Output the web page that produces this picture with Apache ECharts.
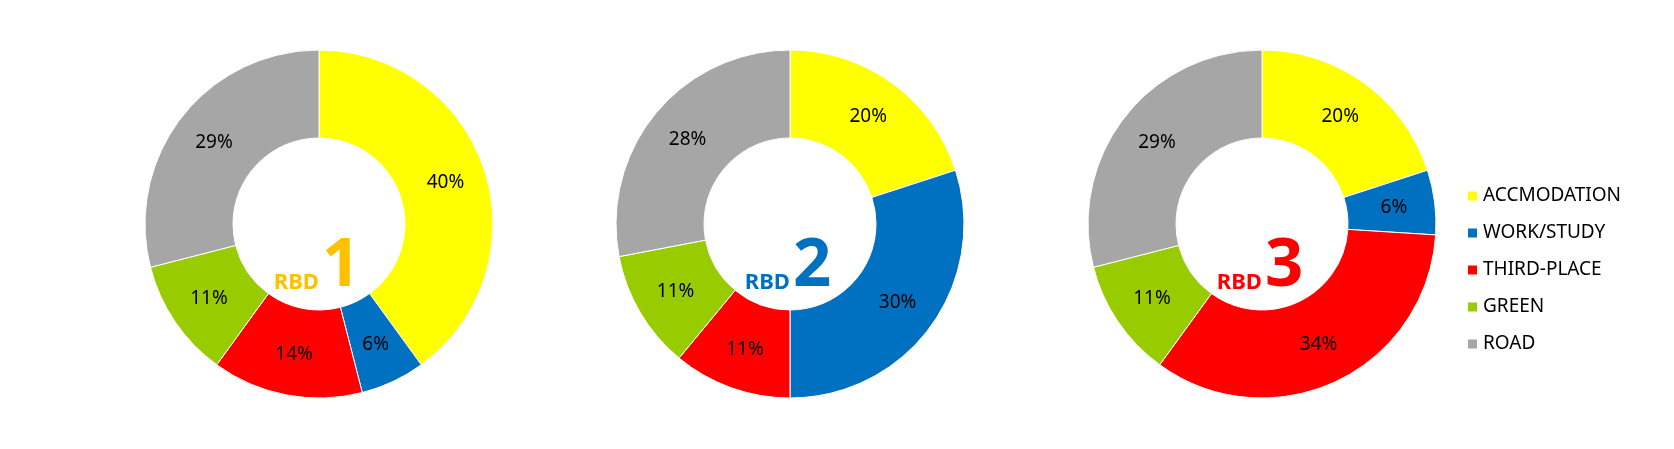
<!DOCTYPE html>
<html>
<head>
<meta charset="utf-8">
<style>
html,body{margin:0;padding:0;background:#fff;}
#chart{width:1674px;height:449px;}
</style>
<script src="https://cdn.jsdelivr.net/npm/echarts@6/dist/echarts.min.js"></script>
</head>
<body>
<div id="chart"></div>
<script>
var categories = ['ACCMODATION', 'WORK/STUDY', 'THIRD-PLACE', 'GREEN', 'ROAD'];
var colors = ['#FFFF00', '#0070C0', '#FF0000', '#99CC00', '#A6A6A6'];
var rbd1 = [40, 6, 14, 11, 29];
var rbd2 = [20, 30, 11, 11, 28];
var rbd3 = [20, 6, 34, 11, 29];
var rbdNames = ['1', '2', '3'];
var rbdColors = ['#FFC000', '#0070C0', '#FF0000'];

var FONT = 'Noto Sans';
var centersX = [319, 790, 1262];
var centerY = 224;
var allData = [rbd1, rbd2, rbd3];

var series = allData.map(function (vals, i) {
  return {
    type: 'pie',
    name: 'RBD ' + rbdNames[i],
    center: [centersX[i], centerY],
    radius: [86, 174],
    startAngle: 90,
    clockwise: true,
    avoidLabelOverlap: false,
    animation: false,
    itemStyle: { borderColor: '#ffffff', borderWidth: 1 },
    emphasis: { disabled: true },
    label: {
      show: true,
      position: 'inside',
      formatter: '{c}%',
      color: '#000',
      fontFamily: FONT,
      fontSize: 19
    },
    labelLine: { show: false },
    data: categories.map(function (c, k) {
      return { name: c, value: vals[k], itemStyle: { color: colors[k] } };
    })
  };
});

var graphics = rbdNames.map(function (n, i) {
  return {
    type: 'text',
    x: centersX[i] - 2,
    y: centerY + 76,
    style: {
      text: '{a|RBD}{b|' + n + '}',
      align: 'center',
      verticalAlign: 'bottom',
      rich: {
        a: { fontFamily: FONT, fontWeight: 'bold', fontSize: 22, fill: rbdColors[i], color: rbdColors[i], verticalAlign: 'bottom', padding: [0, 3, 6, 0] },
        b: { fontFamily: FONT, fontWeight: 'bold', fontSize: 67, fill: rbdColors[i], color: rbdColors[i], verticalAlign: 'bottom' }
      }
    }
  };
});

var chart = echarts.init(document.getElementById('chart'), null, { renderer: 'canvas' });
chart.setOption({
  backgroundColor: '#ffffff',
  animation: false,
  legend: {
    orient: 'vertical',
    left: 1466,
    top: 184,
    padding: 0,
    icon: 'rect',
    itemWidth: 11,
    itemHeight: 11,
    itemGap: 13,
    data: categories,
    selectedMode: false,
    textStyle: { fontFamily: FONT, fontSize: 19, color: '#000', lineHeight: 24 }
  },
  series: series,
  graphic: graphics
});
</script>
</body>
</html>
